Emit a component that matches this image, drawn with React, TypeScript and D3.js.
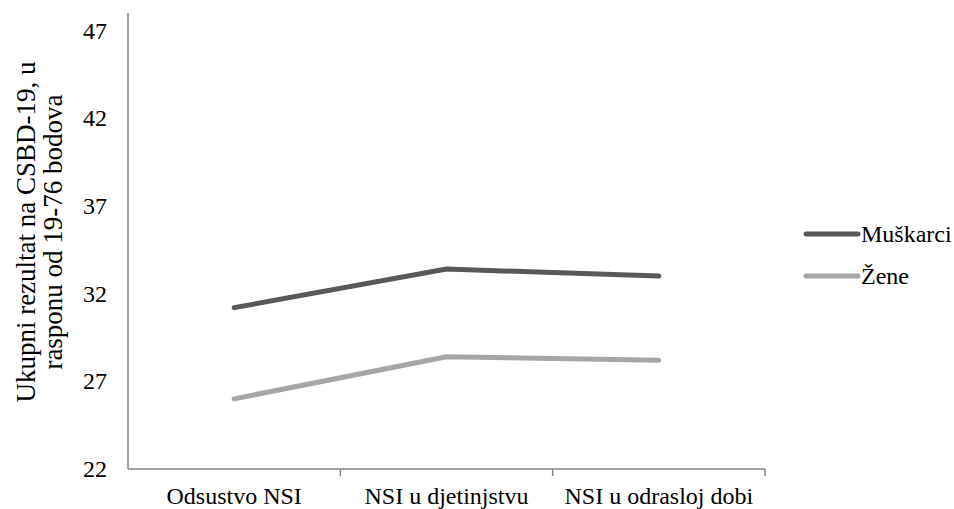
import React from "react";
import * as d3 from "d3";

const categories = ["Odsustvo NSI", "NSI u djetinjstvu", "NSI u odrasloj dobi"];
const seriesNames = ["Muškarci", "Žene"];
const muskarci = [31.2, 33.4, 33.0];
const zene = [26.0, 28.4, 28.2];
const yTicks = [22, 27, 32, 37, 42, 47];
const seriesColors = ["#595959", "#a6a6a6"];

const W = 954;
const H = 509;
const FS = 24;

export default function App() {
  const x = d3.scaleBand<string>().domain(categories).range([128, 765]);
  const y = d3.scaleLinear().domain([22, 48]).range([469, 13]);
  const line = d3
    .line<number>()
    .x((_, i) => (x(categories[i]) ?? 0) + x.bandwidth() / 2)
    .y((d) => y(d));
  const series = [muskarci, zene];

  return (
    <svg
      width={W}
      height={H}
      style={{
        position: "absolute",
        left: 0,
        top: 0,
        background: "#fff",
        fontFamily: '"Liberation Serif", "Times New Roman", Times, serif',
      }}
    >
      {/* axes */}
      <line x1={128} x2={128} y1={13} y2={469} stroke="#868686" strokeWidth={1.5} />
      <line x1={128} x2={765} y1={469} y2={469} stroke="#868686" strokeWidth={1.5} />
      {categories.map((c) => (
        <line
          key={c}
          x1={(x(c) ?? 0) + x.bandwidth()}
          x2={(x(c) ?? 0) + x.bandwidth()}
          y1={469}
          y2={476}
          stroke="#868686"
          strokeWidth={1.5}
        />
      ))}
      {yTicks.map((t) => (
        <text
          key={t}
          x={107}
          y={y(t)}
          textAnchor="end"
          dominantBaseline="central"
          fontSize={FS}
          fill="#000"
        >
          {t}
        </text>
      ))}
      {categories.map((c) => (
        <text
          key={c}
          x={(x(c) ?? 0) + x.bandwidth() / 2}
          y={504}
          textAnchor="middle"
          fontSize={FS}
          fill="#000"
        >
          {c}
        </text>
      ))}
      <g transform="translate(0,232) rotate(-90)" fontSize={27} textAnchor="middle">
        <text x={0} y={35}>Ukupni rezultat na CSBD-19, u</text>
        <text x={0} y={62}>rasponu od 19-76 bodova</text>
      </g>

      {/* lines */}
      {series.map((s, i) => (
        <path
          key={seriesNames[i]}
          d={line(s) ?? ""}
          fill="none"
          stroke={seriesColors[i]}
          strokeWidth={5}
          strokeLinecap="round"
          strokeLinejoin="round"
        />
      ))}

      {/* legend */}
      {seriesNames.map((n, i) => (
        <g key={n} transform={`translate(0,${234 + i * 42})`}>
          <line x1={806} x2={858} y1={0} y2={0} stroke={seriesColors[i]} strokeWidth={5} strokeLinecap="round" />
          <text x={861} y={0} dominantBaseline="central" fontSize={FS} fill="#000">
            {n}
          </text>
        </g>
      ))}
    </svg>
  );
}
